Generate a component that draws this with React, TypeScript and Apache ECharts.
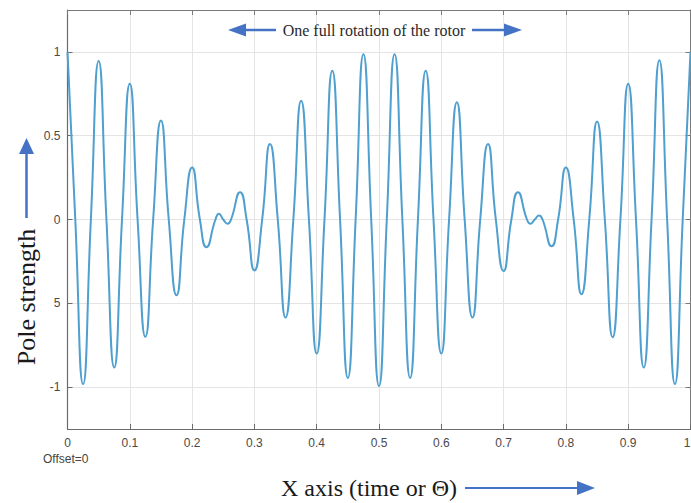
import React, { useEffect, useRef } from 'react';
import * as echarts from 'echarts';

// x positions (fraction of the rotation) and values of each peak / trough
const extremaT = [
  0, 0.025, 0.05, 0.075, 0.1, 0.125, 0.15, 0.175, 0.2, 0.223, 0.243, 0.257, 0.277,
  0.3, 0.325, 0.35, 0.375, 0.4, 0.425, 0.45, 0.475, 0.5, 0.525, 0.55, 0.575, 0.6,
  0.625, 0.65, 0.675, 0.7, 0.723, 0.743, 0.757, 0.777, 0.8, 0.825, 0.85, 0.875,
  0.9, 0.925, 0.95, 0.975, 1.0,
];
const extremaY = [
  1.0, -0.982, 0.946, -0.883, 0.81, -0.7, 0.59, -0.452, 0.31, -0.165, 0.035, -0.025, 0.163,
  -0.304, 0.45, -0.585, 0.708, -0.8, 0.887, -0.945, 0.986, -0.994, 0.986, -0.945, 0.887, -0.8,
  0.7, -0.585, 0.45, -0.307, 0.163, -0.026, 0.024, -0.16, 0.31, -0.446, 0.585, -0.703,
  0.81, -0.883, 0.95, -0.982, 1.0,
];
// x positions where the curve crosses zero
const zeroT = [
  0.0125, 0.0375, 0.0625, 0.0875, 0.1125, 0.1375, 0.1625, 0.1875, 0.2125, 0.2375, 0.25,
  0.2625, 0.2875, 0.3125, 0.3375, 0.3625, 0.3875, 0.4125, 0.4375, 0.4625, 0.4875, 0.5125,
  0.5375, 0.5625, 0.5875, 0.6125, 0.6375, 0.6625, 0.6875, 0.7125, 0.7375, 0.75, 0.7625,
  0.7875, 0.8125, 0.8375, 0.8625, 0.8875, 0.9125, 0.9375, 0.9625, 0.9875,
];

const yTickValues = [-1, -0.5, 0, 0.5, 1];
const yTickLabels = ['-1', '5', '0', '0.5', '1'];
const xTickLabels = ['0', '0.1', '0.2', '0.3', '0.4', '0.5', '0.6', '0.7', '0.8', '0.9', '1'];

const titleText = 'One full rotation of the rotor';
const yName = 'Pole strength';
const xName = 'X axis (time or \u0398)';
const offsetText = 'Offset=0';

const ARROW = '#4472c4';

export default function App() {
  const ref = useRef<HTMLDivElement>(null);

  useEffect(() => {
    if (!ref.current) return;
    const chart = echarts.init(ref.current, undefined, { renderer: 'svg' });

    const pts: [number, number][] = [];
    extremaT.forEach((t, i) => pts.push([t, extremaY[i]]));
    zeroT.forEach((t) => pts.push([t, 0]));
    pts.sort((a, b) => a[0] - b[0]);

    const labelStyle = {
      color: '#4a4a4a',
      fontSize: 12,
      fontFamily: '"Liberation Sans", Arial, sans-serif',
    };

    chart.setOption({
      animation: false,
      backgroundColor: '#ffffff',
      grid: {
        left: 67.5,
        top: 10,
        width: 623,
        height: 419,
        containLabel: false,
        outerBoundsMode: 'none',
      },
      xAxis: [
        {
          type: 'value',
          min: 0,
          max: 1,
          interval: 0.1,
          position: 'bottom',
          axisLine: { show: true, onZero: false, lineStyle: { color: '#6b6b6b', width: 1.2 } },
          axisTick: { show: true, inside: true, length: 5, lineStyle: { color: '#6b6b6b' } },
          axisLabel: {
            ...labelStyle,
            margin: 8,
            alignMaxLabel: 'right',
            formatter: (v: number) => xTickLabels[Math.round(v * 10)] ?? '',
          },
          splitLine: { show: true, lineStyle: { color: '#e4e4e4', width: 1 } },
        },
        {
          type: 'value',
          min: 0,
          max: 1,
          interval: 0.1,
          position: 'top',
          axisLine: { show: true, onZero: false, lineStyle: { color: '#7a7a7a', width: 1.2 } },
          axisTick: { show: true, inside: true, length: 5, lineStyle: { color: '#7a7a7a' } },
          axisLabel: { show: false },
          splitLine: { show: false },
        },
      ],
      yAxis: [
        {
          type: 'value',
          min: -1.25,
          max: 1.25,
          position: 'left',
          axisLine: { show: true, onZero: false, lineStyle: { color: '#6b6b6b', width: 1.2 } },
          axisTick: {
            show: true,
            inside: true,
            length: 5,
            customValues: yTickValues,
            lineStyle: { color: '#6b6b6b' },
          },
          axisLabel: {
            ...labelStyle,
            margin: 7,
            customValues: yTickValues,
            formatter: (v: number) => {
              const i = yTickValues.findIndex((t) => Math.abs(t - v) < 1e-6);
              return i >= 0 ? yTickLabels[i] : '';
            },
          },
          splitLine: { show: true, lineStyle: { color: '#e4e4e4', width: 1 } },
        },
        {
          type: 'value',
          min: -1.25,
          max: 1.25,
          position: 'right',
          axisLine: { show: true, onZero: false, lineStyle: { color: '#7a7a7a' } },
          axisTick: { show: true, inside: true, length: 5, customValues: yTickValues },
          axisLabel: { show: false },
          splitLine: { show: false },
        },
      ],
      series: [
        {
          type: 'line',
          data: pts,
          xAxisIndex: 0,
          yAxisIndex: 0,
          smooth: 0.55,
          showSymbol: false,
          symbol: 'none',
          lineStyle: { color: '#4f9fcf', width: 2 },
          z: 5,
        },
      ],
      graphic: [
        {
          type: 'text',
          x: 374,
          y: 30,
          style: {
            text: titleText,
            fill: '#2a2a2a',
            font: '16px "Liberation Serif", "Times New Roman", serif',
            textAlign: 'center',
            textVerticalAlign: 'middle',
          },
          z: 10,
        },
        { type: 'line', shape: { x1: 244, y1: 30, x2: 276, y2: 30 }, style: { stroke: ARROW, lineWidth: 2.5 }, z: 10 },
        { type: 'polygon', shape: { points: [[228, 30], [246, 23.5], [246, 36.5]] }, style: { fill: ARROW }, z: 10 },
        { type: 'line', shape: { x1: 472, y1: 30, x2: 506, y2: 30 }, style: { stroke: ARROW, lineWidth: 2.5 }, z: 10 },
        { type: 'polygon', shape: { points: [[522, 30], [504, 23.5], [504, 36.5]] }, style: { fill: ARROW }, z: 10 },

        { type: 'line', shape: { x1: 26.5, y1: 152, x2: 26.5, y2: 218 }, style: { stroke: ARROW, lineWidth: 2.5 }, z: 10 },
        { type: 'polygon', shape: { points: [[26.5, 138], [19, 154], [34, 154]] }, style: { fill: ARROW }, z: 10 },
        {
          type: 'text',
          x: 26,
          y: 297,
          rotation: Math.PI / 2,
          style: {
            text: yName,
            fill: '#1a1a1a',
            font: '26px "Liberation Serif", "Times New Roman", serif',
            textAlign: 'center',
            textVerticalAlign: 'middle',
          },
          z: 10,
        },

        {
          type: 'text',
          x: 281,
          y: 488,
          style: {
            text: xName,
            fill: '#1a1a1a',
            font: '24px "Liberation Serif", "Times New Roman", serif',
            textAlign: 'left',
            textVerticalAlign: 'middle',
          },
          z: 10,
        },
        { type: 'line', shape: { x1: 465, y1: 488, x2: 579, y2: 488 }, style: { stroke: ARROW, lineWidth: 2 }, z: 10 },
        { type: 'polygon', shape: { points: [[595, 488], [577, 481], [577, 495]] }, style: { fill: ARROW }, z: 10 },

        {
          type: 'text',
          x: 43,
          y: 459,
          style: {
            text: offsetText,
            fill: '#444444',
            font: '12px "Liberation Sans", Arial, sans-serif',
            textAlign: 'left',
            textVerticalAlign: 'middle',
          },
          z: 10,
        },
      ],
    });

    return () => chart.dispose();
  }, []);

  return (
    <div
      ref={ref}
      style={{ position: 'absolute', left: 0, top: 0, width: 691, height: 503, background: '#fff' }}
    />
  );
}
